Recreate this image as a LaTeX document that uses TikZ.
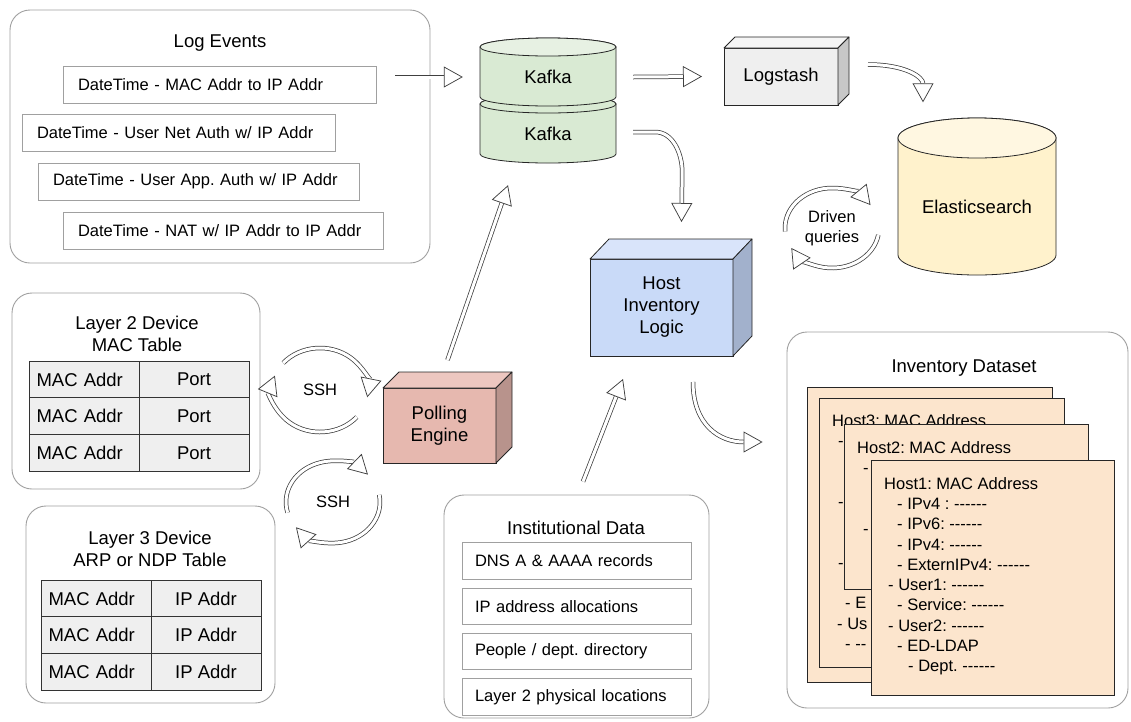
\documentclass[tikz,border=0pt]{standalone}
\usepackage{fontspec}
\setmainfont{Liberation Sans}[Ligatures=TeXOff]
\usepackage{xcolor}
\usepackage{tikz}
\usetikzlibrary{shapes.geometric, arrows}
\usetikzlibrary{arrows.meta}
\usetikzlibrary{positioning}
\frenchspacing

\definecolor{kafkagreen}{HTML}{D9EAD3}
\definecolor{kafkatop}{HTML}{E7F1E3}
\definecolor{elasticbody}{HTML}{FFF2CC}
\definecolor{elastictop}{HTML}{FFF7E1}
\definecolor{hostfront}{HTML}{C9DAF8}
\definecolor{hosttop}{HTML}{D9E4FA}
\definecolor{hostside}{HTML}{A2B1CC}
\definecolor{pollfront}{HTML}{E6B8AF}
\definecolor{polltop}{HTML}{EDC7C0}
\definecolor{pollside}{HTML}{B8938C}
\definecolor{lsfront}{HTML}{EFEFEF}
\definecolor{lstop}{HTML}{F5F5F5}
\definecolor{lsside}{HTML}{C7C7C7}
\definecolor{tablegray}{HTML}{EFEFEF}
\definecolor{cardfill}{HTML}{FCE5CD}
\definecolor{boxline}{HTML}{A0A0A0}

\newcommand\fbig{\fontsize{18.5pt}{22pt}\selectfont}
\newcommand\fsmall{\fontsize{16.5pt}{20.3pt}\selectfont}

\tikzstyle{group} = [rectangle, rounded corners=20pt, draw=boxline, line width=0.9pt, fill=white]
\tikzstyle{item} = [rectangle, draw=boxline, line width=0.8pt, minimum height=37pt, inner xsep=15pt, align=left, font=\fsmall]
\tikzstyle{cell} = [rectangle, draw=black!80, line width=0.8pt, fill=tablegray, minimum width=110pt, minimum height=36.7pt, inner sep=0pt, outer sep=0pt, font=\fbig]
\tikzstyle{cellleft} = [cell, text width=95pt, align=left]
\tikzstyle{front} = [rectangle, draw=black!85, line width=0.8pt, outer sep=0pt, font=\fbig, align=center]
\tikzstyle{face} = [draw=black!85, line width=0.8pt, line join=round]
\tikzstyle{cyl} = [draw=black!85, line width=0.8pt]
\tikzstyle{card} = [rectangle, draw=black!85, line width=0.8pt, fill=cardfill]
\tikzstyle{cardtext} = [anchor=north west, inner sep=0pt, align=left, font=\fsmall]
\tikzstyle{arrow} = [draw=black!75, line width=0.75pt, double=white, double distance=3pt, -{Triangle[open, fill=white, length=19pt, width=21pt, line width=0.75pt]}]

\begin{document}
\begin{tikzpicture}[x=1pt, y=-1pt, node distance=8pt]
    \useasboundingbox (0,0) rectangle (1131,721);
    \fill[white] (0,0) rectangle (1131,721);

    % log events
    \node (logbox) [group, minimum width=420pt, minimum height=253pt] at (220,136.5) {};
    \node (loghead) [font=\fbig] at (220,43) {Log Events};
    \node (le1) [item, text width=283pt] at (219.5,84.5) {DateTime - MAC Addr to IP Addr};
    \node (le2) [item, text width=283pt] at (178.5,133) {DateTime - User Net Auth w/ IP Addr};
    \node (le3) [item, text width=291pt] at (198.5,181.5) {DateTime - User App. Auth w/ IP Addr};
    \node (le4) [item, text width=290pt] at (223,231) {DateTime - NAT w/ IP Addr to IP Addr};

    % kafka drums
    \draw[cyl, fill=kafkagreen] (480,104) -- (480,154) arc[start angle=180, end angle=360, x radius=68pt, y radius=9pt] -- (616,104) arc[start angle=0, end angle=180, x radius=68pt, y radius=9pt] -- cycle;
    \draw[cyl, fill=kafkagreen] (548,104) ellipse[x radius=68pt, y radius=9pt];
    \draw[cyl, fill=kafkagreen] (480,47) -- (480,97) arc[start angle=180, end angle=360, x radius=68pt, y radius=9pt] -- (616,47) arc[start angle=0, end angle=180, x radius=68pt, y radius=9pt] -- cycle;
    \draw[cyl, fill=kafkatop] (548,47) ellipse[x radius=68pt, y radius=9pt];
    \node (kafka1) [font=\fbig, minimum width=136pt, minimum height=50pt] at (548,77) {Kafka};
    \node (kafka2) [font=\fbig, minimum width=136pt, minimum height=50pt] at (548,134) {Kafka};

    % logstash
    \node (logstash) [front, fill=lsfront, minimum width=114pt, minimum height=57pt] at (781,76.5) {Logstash};
    \draw[face, fill=lstop] (logstash.north west) -- ++(11,-11) -- ++(114,0) -- (logstash.north east) -- cycle;
    \draw[face, fill=lsside] (logstash.north east) -- ++(11,-11) -- ++(0,57) -- (logstash.south east) -- cycle;

    % elasticsearch
    \draw[cyl, fill=elasticbody] (898,138) -- (898,255) arc[start angle=180, end angle=360, x radius=79pt, y radius=20pt] -- (1056,138) arc[start angle=0, end angle=180, x radius=79pt, y radius=20pt] -- cycle;
    \draw[cyl, fill=elastictop] (977,138) ellipse[x radius=79pt, y radius=20pt];
    \node (elastic) [font=\fbig, minimum width=158pt, minimum height=137pt] at (977,207) {Elasticsearch};
    \node (queries) [font=\fsmall, align=center] at (832,228) {Driven\\queries};

    % host inventory logic
    \node (host) [front, fill=hostfront, minimum width=143pt, minimum height=97pt] at (661.5,307.5) {Host\\Inventory\\Logic};
    \draw[face, fill=hosttop] (host.north west) -- ++(19,-20) -- ++(143,0) -- (host.north east) -- cycle;
    \draw[face, fill=hostside] (host.north east) -- ++(19,-20) -- ++(0,97) -- (host.south east) -- cycle;

    % polling engine
    \node (polling) [front, fill=pollfront, minimum width=113pt, minimum height=75pt] at (439.5,425.5) {Polling\\Engine};
    \draw[face, fill=polltop] (polling.north west) -- ++(16,-16) -- ++(113,0) -- (polling.north east) -- cycle;
    \draw[face, fill=pollside] (polling.north east) -- ++(16,-16) -- ++(0,75) -- (polling.south east) -- cycle;

    % layer 2 device
    \node (l2box) [group, minimum width=248pt, minimum height=196pt] at (136,391) {};
    \node (l2head) [font=\fbig, align=center] at (137,334) {Layer 2 Device\\MAC Table};
    \node (l2a) [cellleft] at (84,379.4) {MAC Addr};
    \node (l2b) [cell, right=0pt of l2a] {Port};
    \node (l2c) [cellleft, below=0pt of l2a] {MAC Addr};
    \node (l2d) [cell, right=0pt of l2c] {Port};
    \node (l2e) [cellleft, below=0pt of l2c] {MAC Addr};
    \node (l2f) [cell, right=0pt of l2e] {Port};
    \node (ssh1) [font=\fsmall] at (320,390) {SSH};

    % layer 3 device
    \node (l3box) [group, minimum width=249pt, minimum height=197pt] at (150.5,604.5) {};
    \node (l3head) [font=\fbig, align=center] at (150,549) {Layer 3 Device\\ARP or NDP Table};
    \node (l3a) [cellleft] at (96,598.4) {MAC Addr};
    \node (l3b) [cell, right=0pt of l3a] {IP Addr};
    \node (l3c) [cellleft, below=0pt of l3a] {MAC Addr};
    \node (l3d) [cell, right=0pt of l3c] {IP Addr};
    \node (l3e) [cellleft, below=0pt of l3c] {MAC Addr};
    \node (l3f) [cell, right=0pt of l3e] {IP Addr};
    \node (ssh2) [font=\fsmall] at (333,502) {SSH};

    % institutional data
    \node (instbox) [group, minimum width=265pt, minimum height=223pt] at (576.5,606.5) {};
    \node (insthead) [font=\fbig] at (576,528) {Institutional Data};
    \node (id1) [item, text width=203pt, inner xsep=13pt, minimum height=36.5pt] at (576.5,561) {DNS A \& AAAA records};
    \node (id2) [item, text width=203pt, inner xsep=13pt, minimum height=36.5pt, below=of id1] {IP address allocations};
    \node (id3) [item, text width=203pt, inner xsep=13pt, minimum height=36.5pt, below=of id2] {People / dept. directory};
    \node (id4) [item, text width=203pt, inner xsep=13pt, minimum height=36.5pt, below=of id3] {Layer 2 physical locations};

    % inventory dataset
    \node (invbox) [group, minimum width=341pt, minimum height=376pt] at (957.5,520) {};
    \node (invhead) [font=\fbig] at (964,368) {Inventory Dataset};
    \node (card4) [card, minimum width=245pt, minimum height=295pt] at (929.5,534.5) {};
    \node (card3) [card, minimum width=245pt, minimum height=269pt] at (941.5,532.5) {};
    \node (host3) [cardtext] at (832,414) {Host3: MAC Address\\
        \hspace*{6pt}-\\ \mbox{}\\ \mbox{}\\
        \hspace*{6pt}-\\ \mbox{}\\ \mbox{}\\
        \hspace*{6pt}-\\ \mbox{}\\
        \hspace*{13pt}- E\\
        \hspace*{5pt}- Us\\
        \hspace*{13pt}- --};
    \node (card2) [card, minimum width=244pt, minimum height=165pt] at (966,506.5) {};
    \node (host2) [cardtext] at (857,441) {Host2: MAC Address\\
        \hspace*{6pt}-\\ \mbox{}\\ \mbox{}\\
        \hspace*{6pt}-};
    \node (card1) [card, minimum width=243pt, minimum height=235pt] at (992.5,577.5) {};
    \node (host1) [cardtext] at (884,477) {Host1: MAC Address\\
        \hspace*{13pt}- IPv4 : ------\\
        \hspace*{13pt}- IPv6: ------\\
        \hspace*{13pt}- IPv4: ------\\
        \hspace*{13pt}- ExternIPv4: ------\\
        \hspace*{4pt}- User1: ------\\
        \hspace*{13pt}- Service: ------\\
        \hspace*{4pt}- User2: ------\\
        \hspace*{13pt}- ED-LDAP\\
        \hspace*{24pt}- Dept. ------};

    % arrows
    \draw [arrow] ([xshift=19pt]le1.east |- kafka1.west) -- ([xshift=-17pt]kafka1.west);
    \draw [arrow] ([xshift=17pt]kafka1.east) -- ([xshift=-22pt]logstash.west);
    \draw [arrow] ([xshift=17pt,yshift=2pt]kafka2.east) -- ++(22,0) .. controls +(18,0) and +(0,-18) .. ++(27,40) -- ([xshift=20pt,yshift=37pt]host.north);
    \draw [arrow] ([xshift=30pt,yshift=12pt]logstash.east) .. controls +(38,0) and +(0,-25) .. ([xshift=-54pt,yshift=36pt]elastic.north);
    \draw [arrow] ([shift={(185:47pt and 40pt)}]queries.center) arc[start angle=185, end angle=35, x radius=47pt, y radius=40pt];
    \draw [arrow] ([shift={(-10:47pt and 40pt)}]queries.center) arc[start angle=-10, end angle=-150, x radius=47pt, y radius=40pt];
    \draw [arrow] ([xshift=8pt,yshift=28pt]polling.north) -- ([xshift=-40pt,yshift=-26pt]kafka2.south);
    \draw [arrow] ([xshift=6.5pt,yshift=13pt]instbox.north) -- ([xshift=-38.5pt,yshift=-23pt]host.south);
    \draw [arrow] ([xshift=31.5pt,yshift=-26pt]host.south) .. controls +(0,43) and +(-43,0) .. ([xshift=-24pt,yshift=78pt]invbox.west);
    \draw [arrow] ([shift={(140:48pt and 42pt)}]ssh1.center) arc[start angle=140, end angle=-10, x radius=48pt, y radius=42pt];
    \draw [arrow] ([shift={(-40:48pt and 42pt)}]ssh1.center) arc[start angle=-40, end angle=-200, x radius=48pt, y radius=42pt];
    \draw [arrow] ([shift={(195:47pt and 41pt)}]ssh2.center) arc[start angle=195, end angle=42, x radius=47pt, y radius=41pt];
    \draw [arrow] ([shift={(10:47pt and 41pt)}]ssh2.center) arc[start angle=10, end angle=-142, x radius=47pt, y radius=41pt];
\end{tikzpicture}
\end{document}
